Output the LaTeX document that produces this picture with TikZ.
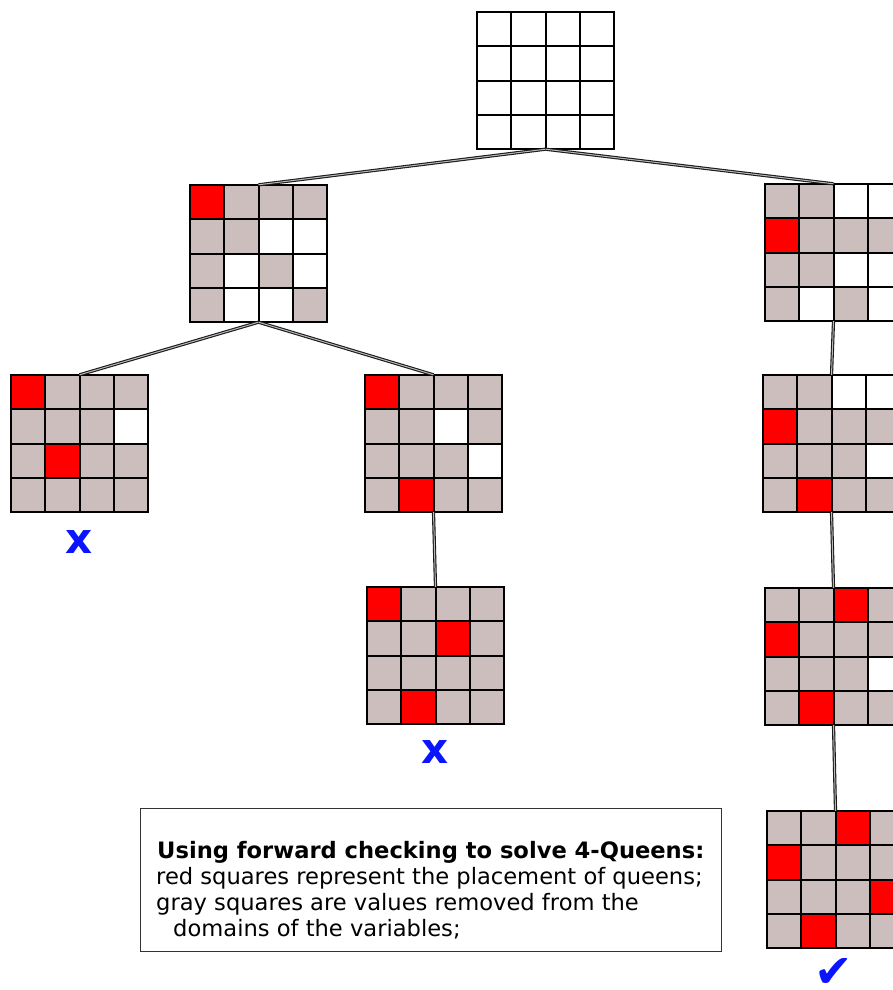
\documentclass[tikz,border=0pt]{standalone}
\usepackage{fontspec}
\setmainfont{DejaVu Sans}
\definecolor{qw}{RGB}{255,255,255}
\definecolor{qg}{RGB}{205,190,190}
\definecolor{qr}{RGB}{255,0,0}
\definecolor{qblue}{RGB}{10,20,255}
\tikzset{
  bnode/.style={minimum size=137pt,inner sep=0pt,draw=none},
  gridline/.style={draw=black,line width=2pt,line cap=rect},
  conn/.style={draw=black!90,line width=1.1pt,double=gray!55,double distance=1pt},
  failmark/.style={text=qblue,font=\fontsize{42}{42}\selectfont\bfseries,inner sep=0pt},
  okmark/.style={text=qblue,font=\fontsize{46}{46}\selectfont,inner sep=0pt},
  legendbox/.style={draw=black!80,line width=1pt,minimum width=581pt,minimum height=143pt,inner sep=0pt},
  legendtext/.style={anchor=base west,inner sep=0pt,font=\fontsize{22.6}{26}\selectfont}
}
\newcommand\qboard[4]{%
  \node[bnode] (#1) at ({#2+68.5},{#3+68.5}) {};
  \foreach \c [count=\i from 0] in {#4} {
    \pgfmathtruncatemacro\cc{mod(\i,4)}
    \pgfmathtruncatemacro\rr{floor(\i/4)}
    \fill[fill=q\c] ({#2+\cc*34.25},{#3+\rr*34.25}) rectangle ++(34.25,34.25);
  }
  \foreach \k in {0,...,4} {
    \draw[gridline] ({#2+\k*34.25},#3) -- ++(0,137);
    \draw[gridline] (#2,{#3+\k*34.25}) -- ++(137,0);
  }
}
\begin{document}
\begin{tikzpicture}[x=1pt,y=-1pt]
\useasboundingbox (0,0) rectangle (893,990);
\clip (0,0) rectangle (893,990);
\fill[white] (0,0) rectangle (893,990);
% boards
\qboard{root}{477}{12}{w,w,w,w, w,w,w,w, w,w,w,w, w,w,w,w}
\qboard{A}{190}{185}{r,g,g,g, g,g,w,w, g,w,g,w, g,w,w,g}
\qboard{B}{765}{184}{g,g,w,w, r,g,g,g, g,g,w,w, g,w,g,w}
\qboard{C}{11}{375}{r,g,g,g, g,g,g,w, g,r,g,g, g,g,g,g}
\qboard{D}{365}{375}{r,g,g,g, g,g,w,g, g,g,g,w, g,r,g,g}
\qboard{E}{763}{375}{g,g,w,w, r,g,g,g, g,g,g,w, g,r,g,g}
\qboard{F}{367}{587}{r,g,g,g, g,g,r,g, g,g,g,g, g,r,g,g}
\qboard{G}{765}{588}{g,g,r,g, r,g,g,g, g,g,g,w, g,r,g,g}
\qboard{H}{767}{811}{g,g,r,g, r,g,g,g, g,g,g,r, g,r,g,g}
% connectors
\draw[conn] (root.south) -- (A.north);
\draw[conn] (root.south) -- (B.north);
\draw[conn] (A.south) -- (C.north);
\draw[conn] (A.south) -- (D.north);
\draw[conn] (D.south) -- (F.north);
\draw[conn] (B.south) -- (E.north);
\draw[conn] (E.south) -- (G.north);
\draw[conn] (G.south) -- (H.north);
% marks
\node[failmark] (xC) at (79,542) {x};
\node[failmark] (xF) at (435,752) {x};
\node[okmark,anchor=north] (ok) at (834,958) {✔};
% legend
\node[legendbox] (legend) at (430.5,879.5) {};
\node[legendtext,font=\fontsize{22.6}{26}\selectfont\bfseries] (t1) at (157,858) {Using forward checking to solve 4-Queens:};
\node[legendtext] (t2) at (156,884) {red squares represent the placement of queens;};
\node[legendtext] (t3) at (156,910) {gray squares are values removed from the};
\node[legendtext] (t4) at (173,936) {domains of the variables;};
\end{tikzpicture}
\end{document}
